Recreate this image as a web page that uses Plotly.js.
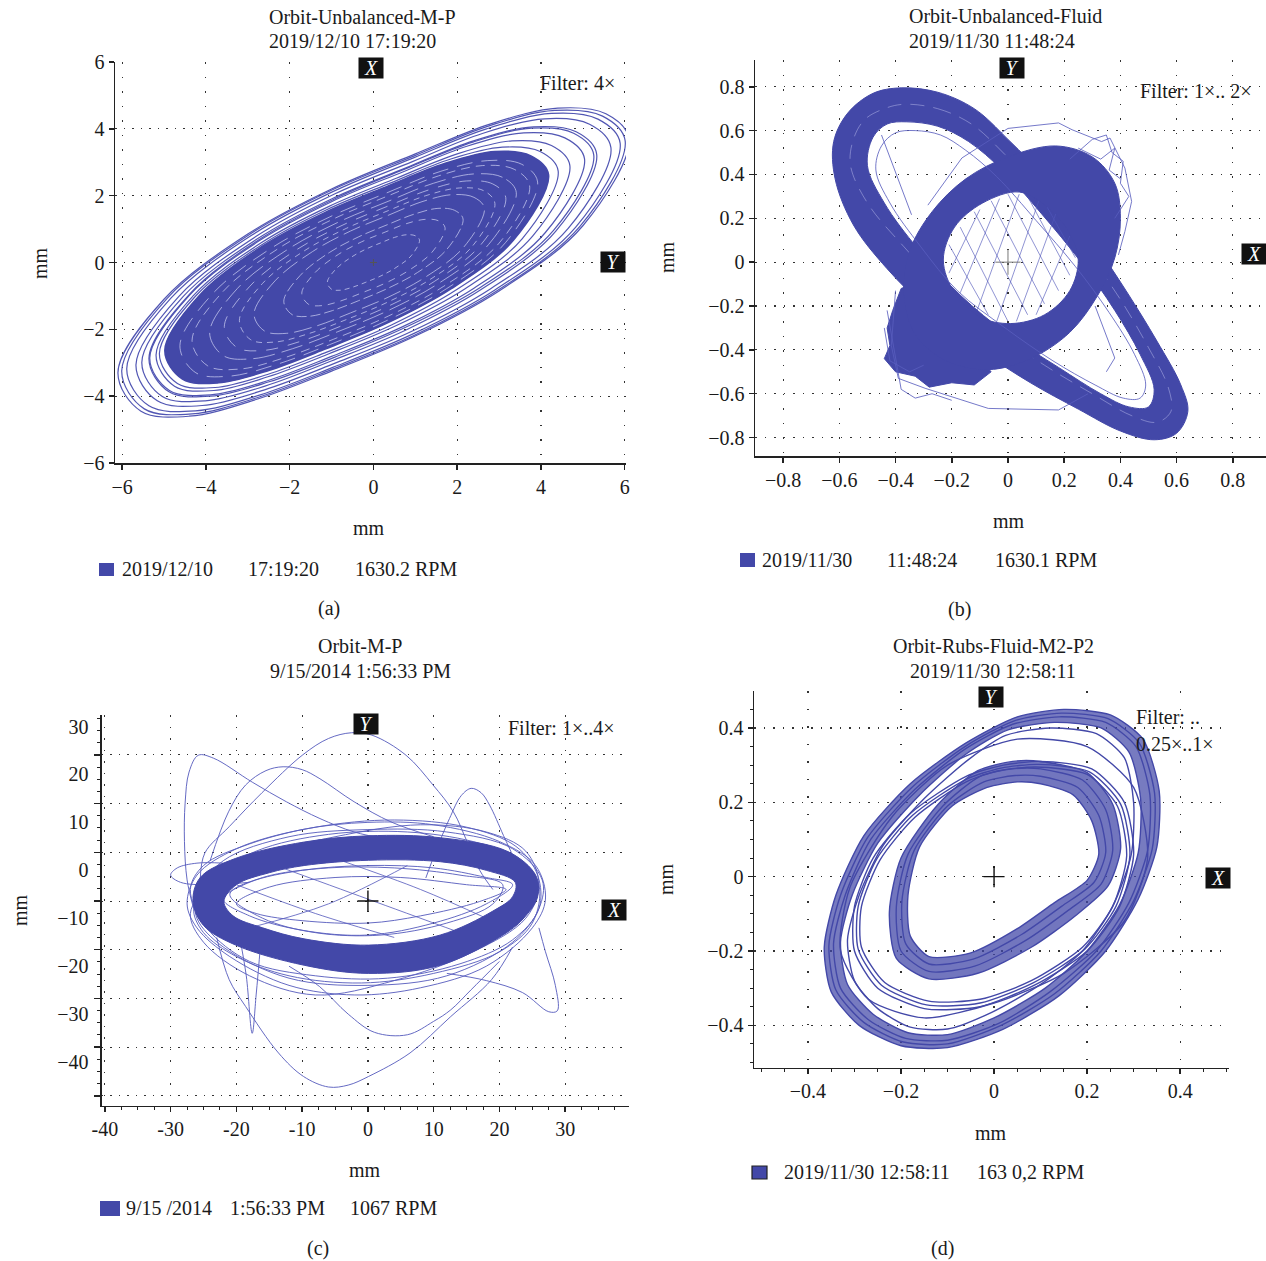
<!DOCTYPE html>
<html><head><meta charset="utf-8">
<script src="https://cdn.plot.ly/plotly-3.0.1.min.js"></script>
<style>html,body{margin:0;padding:0;background:#fff}#chart{width:1266px;height:1261px}</style>
</head><body><div id="chart"></div>
<script>
// ---------------- DATA ----------------
// (a) Orbit-Unbalanced-M-P  (mm)
const aTicks=[-6,-4,-2,0,2,4,6];
const a1x=[6.10,5.55,4.40,2.80,1.00,-1.00,-3.00,-5.00,-6.10,-5.55,-4.40,-2.80,-1.00,1.00,3.00,5.00];
const a1y=[3.70,4.45,4.62,4.15,3.25,2.20,0.85,-1.10,-3.30,-4.45,-4.60,-4.10,-3.25,-2.20,-0.85,1.10];
const a9x=[6.01,5.47,4.33,2.76,0.99,-0.99,-2.96,-4.93,-6.01,-5.47,-4.33,-2.76,-0.99,0.99,2.96,4.93];
const a9y=[3.64,4.38,4.55,4.09,3.20,2.17,0.84,-1.08,-3.25,-4.38,-4.53,-4.04,-3.20,-2.17,-0.84,1.08];
const a2x=[5.89,5.36,4.25,2.70,0.97,-0.97,-2.90,-4.83,-5.89,-5.36,-4.25,-2.70,-0.97,0.97,2.90,4.83];
const a2y=[3.57,4.29,4.46,4.00,3.14,2.12,0.82,-1.06,-3.18,-4.29,-4.44,-3.96,-3.14,-2.12,-0.82,1.06];
const a3x=[5.67,5.16,4.09,2.60,0.93,-0.93,-2.79,-4.65,-5.67,-5.16,-4.09,-2.60,-0.93,0.93,2.79,4.65];
const a3y=[3.44,4.14,4.30,3.86,3.02,2.05,0.79,-1.02,-3.07,-4.14,-4.28,-3.81,-3.02,-2.05,-0.79,1.02];
const a4x=[5.33,4.84,3.82,2.39,0.79,-0.99,-2.77,-4.55,-5.53,-5.04,-4.02,-2.59,-0.99,0.79,2.57,4.35];
const a4y=[3.24,3.91,4.06,3.64,2.84,1.91,0.71,-1.03,-2.99,-4.01,-4.14,-3.70,-2.94,-2.01,-0.81,0.93];
const a8x=[5.26,4.78,3.78,2.39,0.82,-0.92,-2.66,-4.40,-5.36,-4.88,-3.88,-2.49,-0.92,0.82,2.56,4.30];
const a8y=[3.22,3.87,4.02,3.61,2.83,1.91,0.74,-0.96,-2.87,-3.87,-4.00,-3.57,-2.83,-1.91,-0.74,0.96];
const a5x=[5.04,4.57,3.59,2.23,0.70,-1.00,-2.70,-4.40,-5.34,-4.87,-3.89,-2.53,-1.00,0.70,2.40,4.10];
const a5y=[3.10,3.73,3.88,3.48,2.71,1.82,0.67,-0.99,-2.86,-3.83,-3.96,-3.54,-2.81,-1.92,-0.77,0.89];
const a6x=[4.69,4.25,3.31,2.02,0.56,-1.06,-2.68,-4.30,-5.19,-4.75,-3.81,-2.52,-1.06,0.56,2.18,3.80];
const a6y=[2.90,3.50,3.64,3.26,2.53,1.68,0.59,-0.99,-2.77,-3.70,-3.83,-3.42,-2.73,-1.88,-0.79,0.79];
const a7x=[4.41,3.98,3.08,1.83,0.43,-1.13,-2.69,-4.25,-5.11,-4.68,-3.78,-2.53,-1.13,0.43,1.99,3.55];
const a7y=[2.74,3.32,3.45,3.09,2.39,1.57,0.51,-1.01,-2.72,-3.62,-3.74,-3.35,-2.69,-1.87,-0.81,0.71];
const aDx=[4.18,3.76,2.90,1.70,0.35,-1.15,-2.65,-4.15,-4.98,-4.56,-3.70,-2.50,-1.15,0.35,1.85,3.35];
const aDy=[2.63,3.19,3.32,2.96,2.29,1.50,0.49,-0.98,-2.63,-3.49,-3.60,-3.23,-2.59,-1.80,-0.79,0.68];
const aI9x=[3.92,3.54,2.73,1.61,0.35,-1.05,-2.45,-3.85,-4.62,-4.24,-3.43,-2.31,-1.05,0.35,1.75,3.15];
const aI9y=[2.41,2.94,3.05,2.73,2.10,1.36,0.42,-0.95,-2.49,-3.30,-3.40,-3.05,-2.46,-1.72,-0.78,0.59];
const aI1x=[3.73,3.36,2.60,1.55,0.36,-0.96,-2.28,-3.60,-4.33,-3.96,-3.20,-2.15,-0.96,0.36,1.68,3.00];
const aI1y=[2.29,2.79,2.90,2.59,2.00,1.30,0.41,-0.88,-2.33,-3.09,-3.19,-2.86,-2.30,-1.60,-0.71,0.58];
const aI6x=[3.41,3.08,2.39,1.43,0.35,-0.85,-2.05,-3.25,-3.91,-3.58,-2.89,-1.93,-0.85,0.35,1.55,2.75];
const aI6y=[2.10,2.55,2.65,2.37,1.83,1.20,0.39,-0.78,-2.10,-2.79,-2.88,-2.58,-2.07,-1.44,-0.63,0.54];
const aI2x=[3.16,2.85,2.22,1.34,0.35,-0.75,-1.85,-2.95,-3.56,-3.25,-2.62,-1.74,-0.75,0.35,1.45,2.55];
const aI2y=[1.94,2.35,2.44,2.18,1.69,1.11,0.37,-0.71,-1.92,-2.55,-2.63,-2.36,-1.89,-1.31,-0.57,0.51];
const aI7x=[2.90,2.63,2.05,1.25,0.35,-0.65,-1.65,-2.65,-3.20,-2.93,-2.35,-1.55,-0.65,0.35,1.35,2.35];
const aI7y=[1.77,2.15,2.23,2.00,1.55,1.02,0.35,-0.63,-1.73,-2.31,-2.38,-2.13,-1.71,-1.18,-0.51,0.47];
const aI3x=[2.65,2.40,1.88,1.16,0.35,-0.55,-1.45,-2.35,-2.85,-2.60,-2.08,-1.36,-0.55,0.35,1.25,2.15];
const aI3y=[1.62,1.95,2.03,1.82,1.41,0.94,0.33,-0.55,-1.54,-2.05,-2.12,-1.90,-1.51,-1.04,-0.43,0.45];
const aI4x=[2.14,1.94,1.54,0.98,0.35,-0.35,-1.05,-1.75,-2.14,-1.94,-1.54,-0.98,-0.35,0.35,1.05,1.75];
const aI4y=[1.30,1.56,1.62,1.45,1.14,0.77,0.30,-0.39,-1.16,-1.56,-1.61,-1.44,-1.14,-0.77,-0.30,0.39];
const aI8x=[1.71,1.55,1.23,0.78,0.28,-0.28,-0.84,-1.40,-1.71,-1.55,-1.23,-0.78,-0.28,0.28,0.84,1.40];
const aI8y=[1.04,1.25,1.29,1.16,0.91,0.62,0.24,-0.31,-0.92,-1.25,-1.29,-1.15,-0.91,-0.62,-0.24,0.31];
const aI5x=[1.10,1.00,0.79,0.50,0.18,-0.18,-0.54,-0.90,-1.10,-1.00,-0.79,-0.50,-0.18,0.18,0.54,0.90];
const aI5y=[0.67,0.80,0.83,0.75,0.59,0.40,0.15,-0.20,-0.59,-0.80,-0.83,-0.74,-0.59,-0.40,-0.15,0.20];
const aCx=[0], aCy=[0];

// (b) Orbit-Unbalanced-Fluid
const bTicks=[-0.8,-0.6,-0.4,-0.2,0,0.2,0.4,0.6,0.8];
const bEox=[-0.38,-0.25,-0.12,0.00,0.15,0.30,0.42,0.53,0.615,0.64,0.60,0.52,0.40,0.25,0.08,-0.10,-0.28,-0.43,-0.55,-0.615,-0.62,-0.57,-0.48];
const bEoy=[0.795,0.775,0.70,0.56,0.36,0.10,-0.13,-0.36,-0.56,-0.68,-0.78,-0.81,-0.77,-0.67,-0.55,-0.40,-0.22,-0.03,0.17,0.38,0.55,0.68,0.77];
const bEix=[-0.36,-0.25,-0.14,-0.02,0.12,0.26,0.38,0.47,0.52,0.50,0.43,0.33,0.18,0.00,-0.17,-0.32,-0.44,-0.50,-0.48,-0.43];
const bEiy=[0.64,0.62,0.55,0.42,0.22,0.00,-0.22,-0.42,-0.58,-0.66,-0.66,-0.60,-0.48,-0.33,-0.15,0.06,0.27,0.44,0.57,0.63];
const bEmx=[-0.37,-0.25,-0.13,-0.01,0.135,0.28,0.40,0.50,0.57,0.58,0.53,0.44,0.30,0.13,-0.05,-0.22,-0.37,-0.50,-0.56,-0.55,-0.51,-0.44];
const bEmy=[0.72,0.70,0.63,0.49,0.29,0.05,-0.17,-0.39,-0.57,-0.68,-0.73,-0.70,-0.60,-0.47,-0.31,-0.13,0.07,0.27,0.44,0.56,0.65,0.70];
const bEhx=[-0.33,-0.24,-0.15,-0.04,0.10,0.24,0.36,0.45,0.49,0.47,0.41,0.31,0.16,-0.01,-0.18,-0.31,-0.42,-0.47,-0.45,-0.40];
const bEhy=[0.60,0.58,0.51,0.39,0.19,-0.02,-0.23,-0.42,-0.56,-0.62,-0.62,-0.56,-0.45,-0.30,-0.13,0.07,0.27,0.42,0.53,0.59];
const bRox=[0.17,0.30,0.38,0.40,0.38,0.32,0.22,0.08,-0.07,-0.22,-0.33,-0.37,-0.35,-0.27,-0.15,0.00];
const bRoy=[0.53,0.48,0.36,0.20,0.02,-0.15,-0.32,-0.44,-0.49,-0.45,-0.33,-0.15,0.05,0.23,0.38,0.48];
const bRix=[0.04,0.14,0.22,0.25,0.22,0.13,0.01,-0.10,-0.19,-0.23,-0.19,-0.09];
const bRiy=[0.32,0.25,0.13,0.01,-0.13,-0.24,-0.28,-0.25,-0.14,0.01,0.16,0.27];
const bBx=[-0.30,-0.38,-0.41,-0.43,-0.42,-0.44,-0.40,-0.33,-0.28,-0.20,-0.12,-0.06,-0.10,-0.18,-0.25,-0.28];
const bBy=[-0.08,-0.12,-0.22,-0.30,-0.38,-0.44,-0.50,-0.52,-0.57,-0.55,-0.56,-0.50,-0.44,-0.38,-0.30,-0.20];
const bHx=[-0.21,-0.07,null,-0.17,0.00,null,-0.12,0.07,null,-0.06,0.13,null,0.00,0.18,null,0.07,0.22,null,0.14,0.24,null,
           -0.21,-0.10,null,-0.17,-0.03,null,-0.11,0.04,null,-0.04,0.11,null,0.03,0.17,null,0.10,0.22];
const bHy=[0.08,-0.24,null,0.16,-0.27,null,0.23,-0.24,null,0.28,-0.19,null,0.31,-0.13,null,0.30,-0.06,null,0.25,0.02,null,
           -0.05,0.24,null,-0.14,0.29,null,-0.22,0.31,null,-0.27,0.28,null,-0.27,0.22,null,-0.24,0.12];
const bSx=[-0.40,-0.415,-0.39,-0.295,-0.07,0.18,0.285,null,0.00,0.18,0.228,0.333,0.363,0.416,0.44,0.416,0.393,null,-0.285,-0.164,0.00,null,-0.45,-0.343,null,0.31,0.38,0.35,null,-0.44,-0.42,-0.35,-0.30,
           null,0.22,0.30,0.35,0.37,0.41,0.40,0.43,0.38,null,0.25,0.33,0.38,0.36,0.40,null,-0.43,-0.38,-0.33,-0.27,-0.20];
const bSy=[-0.13,-0.38,-0.53,-0.575,-0.667,-0.674,-0.60,null,0.61,0.635,0.604,0.55,0.566,0.429,0.277,0.14,0.033,null,0.26,0.475,0.61,null,0.58,0.216,null,-0.20,-0.437,-0.50,null,-0.30,-0.45,-0.50,-0.47,
           null,0.47,0.56,0.58,0.50,0.46,0.36,0.30,0.20,null,0.52,0.47,0.52,0.42,0.38,null,-0.22,-0.58,-0.62,-0.60,-0.63];
const bCx=[0], bCy=[0];

// (c) Orbit-M-P
const cxTicks=[-40,-30,-20,-10,0,10,20,30];
const cxText=['-40','-30','-20','-10','0','10','20','30'];
const cyLabVals=[30,20,10,0,-10,-20,-30,-40];
const cyLabText=['30','20','10','0','\u221210','\u221220','\u221230','\u221240'];
const cBox=[-26.6,-25.5,-20.1,-9.7,0.1,11.0,21.3,25.5,25.8,24.0,21.3,11.0,0.1,-9.7,-20.1,-25.0];
const cBoy=[-6.5,-1.5,2.5,5.9,7.2,6.8,3.9,-1.0,-5.5,-9.5,-12.8,-19.8,-21.5,-19.8,-15.6,-11.5];
const cBix=[-21.9,-20.0,-15.0,-9.7,0.1,11.0,18.0,22.4,22.0,19.0,11.0,0.1,-9.7,-16.0,-20.5];
const cBiy=[-6.5,-3.0,-0.5,1.0,2.1,1.8,0.0,-2.5,-5.5,-8.5,-13.5,-15.6,-14.3,-12.0,-9.5];
const cO1x=[-27.5,-26,-20,-10,0,10,20,25.5,27,25,18,8,-2,-12,-21,-26];
const cO1y=[-7,-1,4.5,8.5,10,9.5,6,1,-6,-12,-20,-24.5,-26,-24,-18,-12];
const cO2x=[-26,-22,-12,0,12,22,26.5,26,22,12,0,-12,-22,-26];
const cO2y=[-5,2,7,8.5,8,4.5,-2,-8,-15,-22,-24,-22.5,-16,-10];
const cO3x=[-27,-24,-16,-5,8,18,24,26,24,16,4,-8,-18,-25];
const cO3y=[-9,-3,3,7,9.5,8,4,-3,-10,-17,-23,-26,-22,-15];
const cO4x=[-26.5,-24,-17,-6,6,16,23,26,25,20,10,-1,-12,-20,-25];
const cO4y=[-8,-2,4,7.5,8,6,2.5,-3,-11,-17,-21.5,-23.5,-22,-18,-13];
const cO5x=[-27,-25,-18,-8,4,15,22.5,25.8,26,22,14,3,-8,-18,-24.5];
const cO5y=[-4,1,5.5,9,10.5,9,5,-1,-8,-14.5,-19.5,-22.5,-22,-19,-12];
const cN1x=[-22,-18,-10,0,10,18,22,18,10,0,-10,-18];
const cN1y=[-6,-2.5,0,1,0.5,-1.5,-3,-7,-11,-13.5,-12.5,-9.5];
const cN2x=[-20,-15,-5,5,15,21,17,8,0,-10,-17];
const cN2y=[-7,-3.5,-1.5,-1.5,-3,-4,-6.5,-9.5,-11,-10.5,-9];
const cN3x=[-21,-16,-6,4,14,20.5,19,12,2,-8,-16];
const cN3y=[-5,-1.5,0.5,0.5,-1,-3,-7,-11,-13.5,-13,-10];
const cXx=[-20,-8,4,null,-14,0,14,null,-4,8,18,null,6,-6,-18];
const cXy=[-3,-9,-14,null,1,-6,-13,null,2,-4,-10,null,1,-7,-12];
const cE1x=[-25.5,-24.8,-21.1,-16.1,-9.9,-6,-2.5,0.6,5.8,9.9,13,15.1,17,19];
const cE1y=[-2,3.6,9.1,16.2,24.1,27.5,28.7,28.2,24,17.8,12.2,5.9,0,-4];
const cE2x=[-26.5,-27.5,-27.9,-27.8,-27.2,-25.8,-23.5,-17.6,-12.4,-7.3,-2.1,3];
const cE2y=[-8,-2,6,14,20.5,24.0,23.4,18.4,14.3,10.8,8.0,6.5];
const cE3x=[-24,-21.2,-18.6,-15.5,-12.9,-10,-7.3,-2.1,3.5,10];
const cE3y=[2,12.2,17.8,20.8,21.6,21,19.1,14.3,10.1,7];
const cE4x=[8.8,10.3,12.4,14.2,15.7,17.2,18.5,20.6,22.2,23.5];
const cE4y=[-1.6,3.9,10.8,15.6,17.1,16.2,13.6,7.3,2.5,-2];
const cE5x=[-22,-26,-29,-30,-28.5,-24,-18];
const cE5y=[1.5,1.5,0.5,-1,-2.5,-3,-2.5];
const cB1x=[-23,-21.1,-18.6,-13.6,-9.8,-6,-3,0.1,6.4,12.6,18.8,22];
const cB1y=[-14,-22.8,-28.4,-38.1,-43,-45.2,-44.8,-43,-38.1,-30.5,-22.8,-16];
const cB2x=[-12,-7.4,-3,1,6,10,12.6,15.7,20];
const cB2y=[-20,-24.2,-30,-33.8,-34.3,-31.5,-29.1,-24.9,-19];
const cB3x=[12,18,23.5,27.5,28.8,28.5,27,26];
const cB3y=[-21.5,-23,-25.5,-29.5,-29.3,-24,-17,-12];
const cB4x=[-19.5,-18.5,-17.6,-17,-16.3];
const cB4y=[-14,-22,-34,-26,-15];
const cCx=[0], cCy=[-6.4];

// (d) Orbit-Rubs-Fluid-M2-P2
const dTicks=[-0.4,-0.2,0,0.2,0.4];
const d1ax=[0.15,0.25,0.32,0.355,0.35,0.31,0.24,0.14,0.02,-0.10,-0.20,-0.29,-0.35,-0.365,-0.34,-0.28,-0.18,-0.06,0.05];
const d1ay=[0.45,0.435,0.37,0.23,0.08,-0.06,-0.20,-0.32,-0.41,-0.46,-0.455,-0.40,-0.31,-0.19,-0.05,0.11,0.25,0.36,0.43];
const d1dx=[0.145,0.245,0.312,0.345,0.34,0.30,0.23,0.13,0.015,-0.10,-0.195,-0.28,-0.34,-0.355,-0.33,-0.272,-0.175,-0.06,0.045];
const d1dy=[0.44,0.425,0.36,0.225,0.075,-0.065,-0.20,-0.315,-0.40,-0.45,-0.445,-0.392,-0.305,-0.185,-0.05,0.105,0.242,0.352,0.42];
const d1bx=[0.14,0.24,0.305,0.335,0.33,0.29,0.22,0.12,0.01,-0.10,-0.19,-0.27,-0.33,-0.345,-0.32,-0.265,-0.17,-0.06,0.04];
const d1by=[0.43,0.415,0.35,0.22,0.07,-0.07,-0.20,-0.31,-0.395,-0.44,-0.435,-0.385,-0.30,-0.18,-0.05,0.10,0.235,0.345,0.41];
const d1cx=[0.13,0.23,0.29,0.315,0.31,0.27,0.20,0.11,0.00,-0.10,-0.185,-0.26,-0.315,-0.33,-0.305,-0.25,-0.16,-0.06,0.03];
const d1cy=[0.415,0.40,0.335,0.21,0.065,-0.075,-0.20,-0.30,-0.38,-0.425,-0.42,-0.37,-0.29,-0.175,-0.05,0.09,0.22,0.33,0.395];
const d1ex=[0.12,0.22,0.28,0.30,0.295,0.255,0.19,0.10,-0.005,-0.10,-0.18,-0.25,-0.30,-0.315,-0.29,-0.238,-0.15,-0.055,0.025];
const d1ey=[0.40,0.385,0.32,0.20,0.06,-0.08,-0.20,-0.29,-0.365,-0.41,-0.405,-0.355,-0.28,-0.17,-0.05,0.085,0.21,0.315,0.38];
const d2ax=[0.10,0.21,0.28,0.30,0.27,0.20,0.09,-0.03,-0.15,-0.25,-0.30,-0.30,-0.26,-0.18,-0.06,0.02];
const d2ay=[0.31,0.29,0.20,0.06,-0.08,-0.20,-0.29,-0.35,-0.355,-0.30,-0.20,-0.08,0.05,0.17,0.27,0.30];
const d2cx=[0.095,0.205,0.272,0.292,0.262,0.195,0.085,-0.03,-0.145,-0.242,-0.292,-0.292,-0.252,-0.175,-0.06,0.015];
const d2cy=[0.302,0.282,0.195,0.058,-0.08,-0.195,-0.285,-0.34,-0.345,-0.292,-0.195,-0.08,0.048,0.165,0.262,0.292];
const d2bx=[0.09,0.20,0.265,0.285,0.255,0.19,0.08,-0.03,-0.14,-0.235,-0.285,-0.285,-0.245,-0.17,-0.06,0.01];
const d2by=[0.295,0.275,0.19,0.055,-0.08,-0.19,-0.28,-0.33,-0.335,-0.285,-0.19,-0.08,0.045,0.16,0.255,0.285];
const dSx=[0.05,0.20,0.30,0.33,0.28,0.15,0.00,-0.15,-0.27,-0.33,-0.31,-0.22,-0.10];
const dSy=[0.37,0.35,0.24,0.05,-0.12,-0.26,-0.34,-0.38,-0.33,-0.20,-0.03,0.16,0.30];
const d3ax=[0.10,0.17,0.21,0.225,0.20,0.13,0.05,-0.05,-0.14,-0.18,-0.185,-0.16,-0.09,-0.015,0.05];
const d3ay=[0.25,0.22,0.15,0.06,-0.01,-0.07,-0.14,-0.205,-0.215,-0.16,-0.05,0.08,0.19,0.24,0.255];
const d3cx=[0.10,0.18,0.225,0.24,0.215,0.145,0.06,-0.045,-0.14,-0.19,-0.198,-0.172,-0.10,-0.022,0.045];
const d3cy=[0.27,0.24,0.165,0.065,-0.015,-0.08,-0.155,-0.222,-0.235,-0.18,-0.065,0.07,0.19,0.255,0.272];
const d3bx=[0.10,0.19,0.24,0.255,0.23,0.16,0.07,-0.04,-0.14,-0.20,-0.21,-0.185,-0.11,-0.03,0.04];
const d3by=[0.29,0.26,0.18,0.07,-0.02,-0.09,-0.17,-0.24,-0.255,-0.20,-0.08,0.06,0.19,0.27,0.29];
const d3dx=[0.10,0.20,0.255,0.272,0.245,0.175,0.08,-0.035,-0.14,-0.21,-0.225,-0.20,-0.12,-0.035,0.04];
const d3dy=[0.31,0.28,0.195,0.075,-0.025,-0.105,-0.19,-0.26,-0.275,-0.22,-0.095,0.05,0.195,0.285,0.31];
const dCx=[0], dCy=[0];

// ---------------- BUILD ----------------
const W=1266,H=1261;
const px=v=>v/W, py=v=>1-v/H;
const FONT='Liberation Serif, Times New Roman, serif';
const BLUE='rgb(67,72,168)';
const LIGHT='rgba(88,93,190,0.92)';
const STREAK='rgba(205,207,242,0.8)';
const closed=a=>a.concat([a[0]]);
const traces=[];
function loop(xs,ys,xa,ya,o){o=o||{};
  const t={type:'scatter',mode:'lines',x:closed(xs),y:closed(ys),xaxis:xa,yaxis:ya,hoverinfo:'skip',showlegend:false,
    line:{color:o.color||BLUE,width:o.width||1.2,shape:o.shape||'spline',smoothing:o.sm||1,dash:o.dash||'solid'}};
  if(o.fill){t.fill=o.fill;t.fillcolor=o.fillcolor||BLUE;}
  traces.push(t);}
function path(xs,ys,xa,ya,o){o=o||{};
  traces.push({type:'scatter',mode:'lines',x:xs,y:ys,xaxis:xa,yaxis:ya,hoverinfo:'skip',showlegend:false,connectgaps:false,
    line:{color:o.color||BLUE,width:o.width||1.1,shape:o.shape||'spline',smoothing:o.sm||1}});}
function cross(xs,ys,xa,ya,size,color,w){
  traces.push({type:'scatter',mode:'markers',x:xs,y:ys,xaxis:xa,yaxis:ya,hoverinfo:'skip',showlegend:false,
    marker:{symbol:'cross-thin',size:size,line:{color:color,width:w}}});}

// (a)
[[a1x,a1y],[a9x,a9y],[a2x,a2y],[a3x,a3y],[a4x,a4y],[a8x,a8y],[a5x,a5y],[a6x,a6y],[a7x,a7y]].forEach(p=>loop(p[0],p[1],'x','y',{width:1.2,color:'rgba(72,77,175,0.95)'}));
loop(aDx,aDy,'x','y',{fill:'toself',fillcolor:BLUE,width:1.6});
const aStreaks=[[aI9x,aI9y,'16px,9px'],[aI1x,aI1y,'9px,6px'],[aI6x,aI6y,'22px,7px'],[aI2x,aI2y,'12px,10px'],[aI7x,aI7y,'6px,5px'],[aI3x,aI3y,'18px,6px'],[aI4x,aI4y,'10px,4px'],[aI8x,aI8y,'7px,6px'],[aI5x,aI5y,'5px,4px']];
aStreaks.forEach(p=>loop(p[0],p[1],'x','y',{width:0.9,color:STREAK,dash:p[2]}));
cross(aCx,aCy,'x','y',5,'#555',1);

// (b)
loop(bBx,bBy,'x2','y2',{width:1,shape:'linear',fill:'toself',fillcolor:BLUE});
loop(bEix,bEiy,'x2','y2',{width:1});
loop(bEox,bEoy,'x2','y2',{width:1,fill:'tonext',fillcolor:BLUE});
loop(bEmx,bEmy,'x2','y2',{width:0.8,color:'rgba(190,192,238,0.6)',dash:'14px,9px'});
loop(bRix,bRiy,'x2','y2',{width:1});
loop(bRox,bRoy,'x2','y2',{width:1,fill:'tonext',fillcolor:BLUE});
loop(bEhx,bEhy,'x2','y2',{width:0.9,color:LIGHT});
path(bHx,bHy,'x2','y2',{width:0.8,color:'rgba(80,86,185,0.8)',shape:'linear'});
path(bSx,bSy,'x2','y2',{width:0.9,color:LIGHT,shape:'linear'});
cross(bCx,bCy,'x2','y2',18,'#777',1);

// (c)
[[cO1x,cO1y],[cO2x,cO2y],[cO3x,cO3y],[cO4x,cO4y],[cO5x,cO5y],[cN1x,cN1y],[cN2x,cN2y],[cN3x,cN3y]].forEach(p=>loop(p[0],p[1],'x3','y3',{width:1,color:LIGHT}));
path(cXx,cXy,'x3','y3',{width:0.9,color:LIGHT});
[[cE1x,cE1y],[cE2x,cE2y],[cE3x,cE3y],[cE4x,cE4y],[cE5x,cE5y],[cB1x,cB1y],[cB2x,cB2y],[cB3x,cB3y],[cB4x,cB4y]].forEach(p=>path(p[0],p[1],'x3','y3',{width:1,color:LIGHT}));
loop(cBix,cBiy,'x3','y3',{width:1});
loop(cBox,cBoy,'x3','y3',{width:1,fill:'tonext',fillcolor:BLUE});
cross(cCx,cCy,'x3','y3',15,'#111',1.4);
traces.push({type:'scatter',mode:'lines',x:[],y:[],xaxis:'x3',yaxis:'y5',showlegend:false,hoverinfo:'skip'});

// (d)
loop(d1cx,d1cy,'x4','y4',{width:1.4,sm:0.7});
loop(d1ax,d1ay,'x4','y4',{width:1.4,sm:0.7,fill:'tonext',fillcolor:'rgba(67,72,168,0.72)'});
[[d1dx,d1dy],[d1bx,d1by],[d1ex,d1ey],[d2ax,d2ay],[d2cx,d2cy],[d2bx,d2by],[dSx,dSy],[d3cx,d3cy],[d3bx,d3by]]
  .forEach(p=>loop(p[0],p[1],'x4','y4',{width:1.4,sm:0.7}));
loop(d3ax,d3ay,'x4','y4',{width:1.4,sm:0.7});
loop(d3dx,d3dy,'x4','y4',{width:1.4,sm:0.7,fill:'tonext',fillcolor:'rgba(67,72,168,0.75)'});
cross(dCx,dCy,'x4','y4',15,'#111',1.4);

// axes
const tf={family:FONT,size:20,color:'#1a1a1a'};
function ax(o){return Object.assign({showline:true,linecolor:'#222',linewidth:1.5,ticks:'outside',ticklen:5,tickwidth:1.5,tickcolor:'#222',
  zeroline:false,showgrid:true,gridcolor:'#333',gridwidth:1.2,tickfont:tf,fixedrange:true,tickmode:'array'},o);}
const minorC={ticks:'outside',ticklen:3,tickwidth:1,tickcolor:'#222',showgrid:false};

const layout={width:W,height:H,margin:{l:0,r:0,t:0,b:0},paper_bgcolor:'#fff',plot_bgcolor:'#fff',showlegend:false,
  xaxis:ax({domain:[px(115),px(626)],range:[-6.17,6.03],anchor:'y',tickvals:aTicks,griddash:'1.5px,13px'}),
  yaxis:ax({domain:[py(463),py(62)],range:[-6,6],anchor:'x',tickvals:aTicks,griddash:'1.5px,7px'}),
  xaxis2:ax({domain:[px(755),1],range:[-0.90,0.918],anchor:'y2',tickvals:bTicks,griddash:'1.5px,13px'}),
  yaxis2:ax({domain:[py(456),py(60)],range:[-0.884,0.922],anchor:'x2',tickvals:bTicks,griddash:'1.5px,8px'}),
  xaxis3:ax({domain:[px(101.6),px(629)],range:[-40.5,39.7],anchor:'y3',tickvals:cxTicks,ticktext:cxText,griddash:'1.5px,10px',
    minor:Object.assign({tickmode:'linear',tick0:0,dtick:2.5},minorC)}),
  yaxis3:ax({domain:[py(1105.7),py(715)],range:[-49.1,32.4],anchor:'x3',tickmode:'linear',tick0:-6.4,dtick:10.16,showticklabels:false,ticklen:6,griddash:'1.5px,7px',gridwidth:1,
    minor:Object.assign({tickmode:'linear',tick0:-6.4,dtick:2.54},minorC)}),
  yaxis5:{overlaying:'y3',anchor:'x3',side:'left',range:[-49.1,32.4],tickmode:'array',tickvals:cyLabVals,ticktext:cyLabText,
    showgrid:false,showline:false,zeroline:false,ticks:'',tickfont:tf,ticklabelstandoff:12,fixedrange:true},
  xaxis4:ax({domain:[px(754),px(1229)],range:[-0.516,0.505],anchor:'y4',tickvals:dTicks,griddash:'1.5px,16px',
    minor:Object.assign({tickmode:'linear',tick0:0,dtick:0.05},minorC)}),
  yaxis4:ax({domain:[py(1067.7),py(691)],range:[-0.514,0.4995],anchor:'x4',tickvals:dTicks,griddash:'1.5px,8px',
    minor:Object.assign({tickmode:'linear',tick0:0,dtick:0.05},minorC)}),
  annotations:[],shapes:[]};

const A=layout.annotations, S=layout.shapes;
function t(text,x,y,anchor,extra){A.push(Object.assign({text:text,x:px(x),y:py(y),xref:'paper',yref:'paper',showarrow:false,
  xanchor:anchor||'left',yanchor:'middle',font:{family:FONT,size:20,color:'#1a1a1a'}},extra||{}));}
function box(text,x,y){t('<i>'+text+'</i>',x,y,'center',{bgcolor:'#111',width:24,height:20,borderpad:0,font:{family:FONT,size:20,color:'#fff'}});}
function rot(text,x,y){t(text,x,y,'center',{textangle:-90});}
function sq(x0,x1,y0,y1,border){S.push({type:'rect',xref:'paper',yref:'paper',x0:px(x0),x1:px(x1),y0:py(y1),y1:py(y0),
  fillcolor:'rgb(67,72,168)',line:{width:border?1.2:0,color:'#222'}});}

// (a)
t('Orbit-Unbalanced-M-P',267,17); t('2019/12/10 17:19:20',267,41);
box('X',371,68); box('Y',613,262); t('Filter: 4\u00d7',617,83,'right');
rot('mm',40,263); t('mm',369,528,'center');
sq(99,114,563,576); t('2019/12/10',120,569); t('17:19:20',246,569); t('1630.2 RPM',353,569);
t('(a)',329,608,'center');
// (b)
t('Orbit-Unbalanced-Fluid',907,16); t('2019/11/30 11:48:24',907,41);
box('Y',1012,68); box('X',1254,254); t('Filter: 1\u00d7.. 2\u00d7',1138,91);
rot('mm',667,257); t('mm',1009,521,'center');
sq(740,755,553,567); t('2019/11/30',760,560); t('11:48:24',885,560); t('1630.1 RPM',993,560);
t('(b)',960,609,'center');
// (c)
t('Orbit-M-P',360,646,'center'); t('9/15/2014 1:56:33 PM',360,671,'center');
box('Y',366,724); box('X',614,910); t('Filter: 1\u00d7..4\u00d7',506,728);
rot('mm',20,910); t('mm',365,1170,'center');
sq(100,120,1201,1216); t('9/15 /2014',124,1208); t('1:56:33 PM',228,1208); t('1067 RPM',348,1208);
t('(c)',318,1248,'center');
// (d)
t('Orbit-Rubs-Fluid-M2-P2',993,646,'center'); t('2019/11/30 12:58:11',993,671,'center');
box('Y',991,697); box('X',1218,878); t('Filter: ..',1134,717); t('0.25\u00d7..1\u00d7',1134,744);
rot('mm',666,879); t('mm',991,1133,'center');
sq(752,767,1166,1179,true); t('2019/11/30 12:58:11',782,1172); t('163 0,2 RPM',975,1172);
t('(d)',942,1248,'center');

Plotly.newPlot('chart',traces,layout,{staticPlot:true});
</script></body></html>
